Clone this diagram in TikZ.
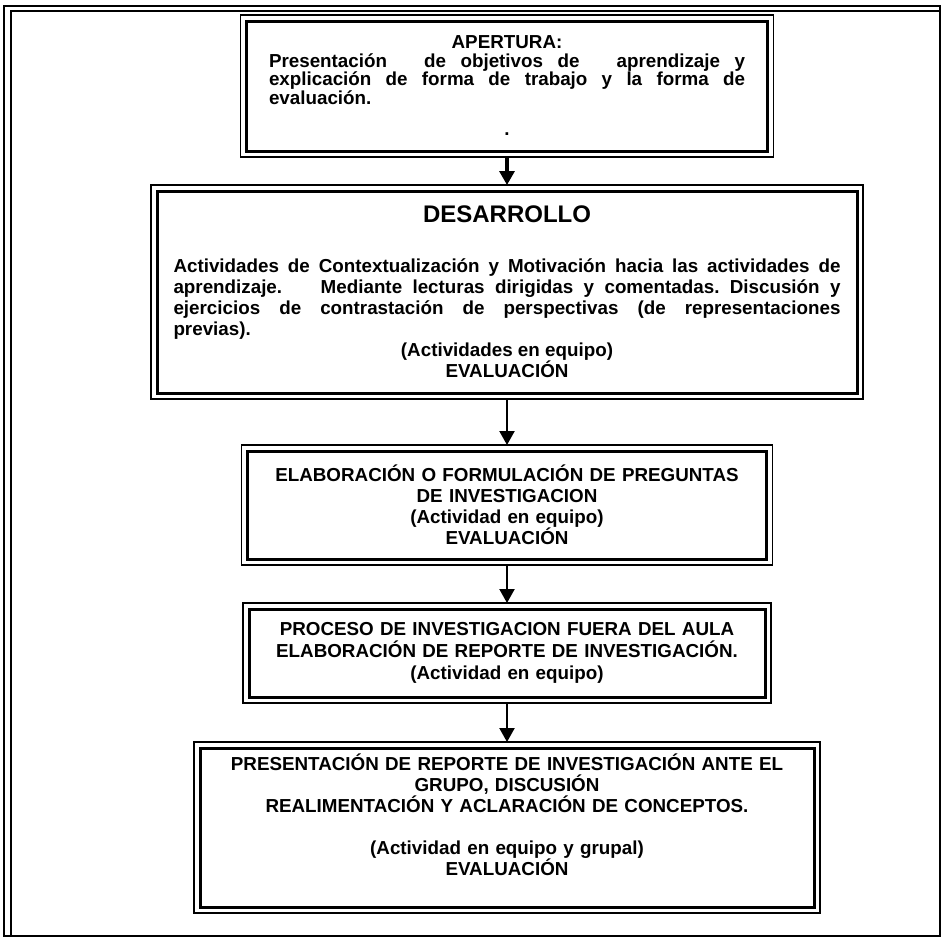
\documentclass[tikz,border=0pt]{standalone}
\usepackage{fontspec}
\setmainfont{Liberation Sans}
\usepackage{tikz}
\usetikzlibrary{positioning, arrows.meta}
\setlength{\parindent}{0pt}
\tolerance=10000
\frenchspacing

\begin{document}
\begin{tikzpicture}[x=1pt, y=1pt, node distance=40pt, >={Triangle[width=15pt, length=14pt]},
    every node/.style={font=\bfseries\fontsize{18.8}{21}\selectfont},
    caja/.style={rectangle, draw, line width=3pt, outer sep=0pt, inner sep=0pt},
    flecha/.style={->, line width=2.2pt, shorten <=6pt, shorten >=6pt}]
    \useasboundingbox (0,0) rectangle (941,-938);
    % marco de la pagina
    \draw[line width=1.2pt] (4,-6) rectangle (940,-936);
    \draw[line width=2.2pt] (11,-936) -- (11,-11) -- (940,-11);

    \node[caja, minimum width=521pt, minimum height=130pt, text width=476pt, align=justify,
          font=\bfseries\fontsize{18.8}{18.5}\selectfont] (apertura) at (507,-86)
      {\centerline{APERTURA:}\par
       Presentación\hspace{1.2em} de objetivos de\hspace{1.2em} aprendizaje y\linebreak
       explicación de forma de trabajo y la forma de\linebreak
       evaluación.\par\vspace{13pt}\centerline{.}\par};
    \node[caja, minimum width=700pt, minimum height=202pt, text width=667pt, align=justify,
          below=40pt of apertura] (desarrollo)
      {\centerline{\fontsize{24}{28}\selectfont DESARROLLO}\par\vspace{29pt}
       Actividades de Contextualización y Motivación hacia las actividades de\linebreak
       aprendizaje.\hspace{1.5em} Mediante lecturas dirigidas y comentadas. Discusión y\linebreak
       ejercicios de contrastación de perspectivas (de representaciones\linebreak
       previas).\par
       \centerline{(Actividades en equipo)}\par\centerline{EVALUACIÓN}\par};
    \node[caja, minimum width=519pt, minimum height=108pt, text width=500pt, align=center,
          below=58pt of desarrollo] (elaboracion)
      {ELABORACIÓN O FORMULACIÓN DE PREGUNTAS\\ DE INVESTIGACION\\ (Actividad en equipo)\\ EVALUACIÓN};
    \node[caja, minimum width=516pt, minimum height=88pt, text width=500pt, align=center,
          font=\bfseries\fontsize{18.8}{22}\selectfont, below=50pt of elaboracion] (proceso)
      {PROCESO DE INVESTIGACION FUERA DEL AULA\\ ELABORACIÓN DE REPORTE DE INVESTIGACIÓN.\\ (Actividad en equipo)};
    \node[caja, minimum width=614pt, minimum height=159pt, text width=600pt, align=center,
          below=51pt of proceso] (presentacion)
      {PRESENTACIÓN DE REPORTE DE INVESTIGACIÓN ANTE EL\\ GRUPO, DISCUSIÓN\\
       REALIMENTACIÓN Y ACLARACIÓN DE CONCEPTOS.\\[21pt]
       (Actividad en equipo y grupal)\\ EVALUACIÓN\\[4pt] \mbox{}};

    % linea exterior delgada de cada caja
    \foreach \n in {apertura, desarrollo, elaboracion, proceso, presentacion}
      \draw[line width=1.4pt] ([shift={(-6,6)}]\n.north west) rectangle ([shift={(6,-6)}]\n.south east);

    \draw[flecha, line width=3.2pt] (apertura) -- (desarrollo);
    \draw[flecha] (desarrollo) -- (elaboracion);
    \draw[flecha] (elaboracion) -- (proceso);
    \draw[flecha] (proceso) -- (presentacion);
\end{tikzpicture}
\end{document}
